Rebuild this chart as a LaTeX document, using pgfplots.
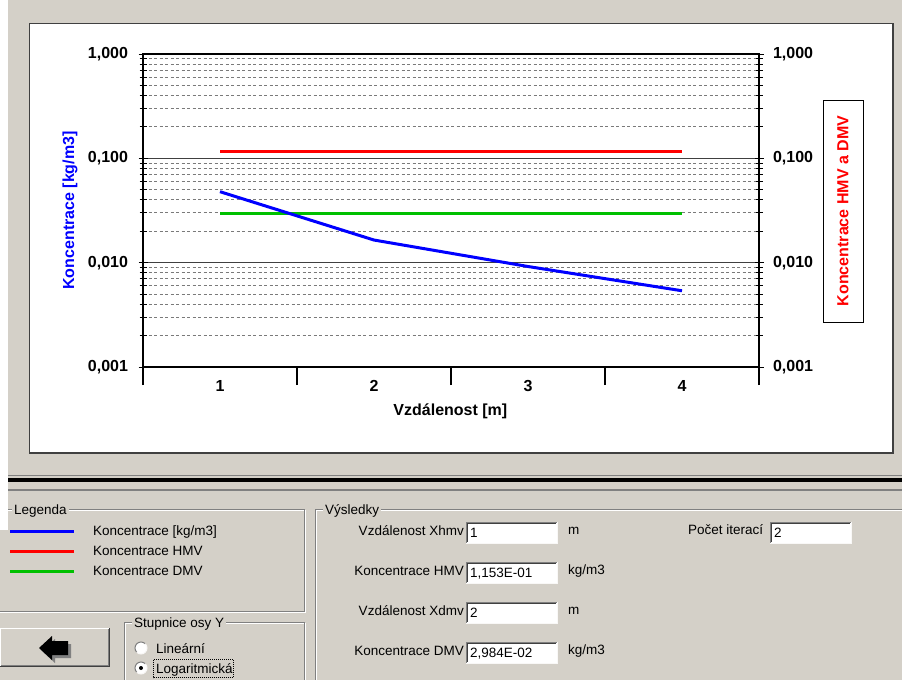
\documentclass[border=0pt]{standalone}
\usepackage{pgfplots}
\pgfplotsset{compat=1.18}
\usepackage{pgfplotstable}
\usepackage{fontspec}
\setmainfont{Liberation Sans}
\definecolor{bg}{HTML}{D4D0C8}
\definecolor{cblue}{RGB}{0,0,255}
\definecolor{cred}{RGB}{255,0,0}
\definecolor{cgreen}{RGB}{0,192,0}
\definecolor{gridA}{HTML}{404040}
\definecolor{gridB}{HTML}{7A7A7A}
\definecolor{dk}{HTML}{808080}
\definecolor{dkk}{HTML}{404040}
\newcommand{\cf}{\bfseries\fontsize{16bp}{19bp}\selectfont}
\newcommand{\uf}{\fontsize{13.5bp}{16bp}\selectfont}

\pgfplotstableread{
x y
1 0.0479
2 0.01648
3 0.00919
4 0.00538
}\conc
\pgfplotstableread{
x y
1 0.1153
4 0.1153
}\hmv
\pgfplotstableread{
x y
1 0.02984
4 0.02984
}\dmv

% #1..#4 box corners, #5 title x, #6 title
\newcommand{\groupbox}[6]{%
  \draw[white, line width=1bp] ({#1+1},{#2+1}) rectangle ({#3+1},{#4+1});
  \draw[dk, line width=1bp] (#1,#2) rectangle (#3,#4);
  \node[font=\uf, fill=bg, inner xsep=2bp, inner ysep=1bp, anchor=base west] at ({#5-2},{#2+5}) {#6};
}
\newcommand{\tbox}[5]{%
  \fill[white] (#1,#2) rectangle (#3,#4);
  \draw[dk, line width=1bp] (#1,#4) -- (#1,#2) -- (#3,#2);
  \draw[dkk, line width=1bp] ({#1+1},{#4-1}) -- ({#1+1},{#2+1}) -- ({#3-1},{#2+1});
  \draw[white!85!bg, line width=1bp] (#1,#4) -- (#3,#4) -- (#3,#2);
  \node[font=\uf, anchor=base west, inner sep=0pt] at ({#1+4},{#2+15.5}) {#5};
}

\begin{document}
\begin{tikzpicture}
\begin{scope}[x=1bp,y=-1bp]
  \fill[bg] (0,0) rectangle (902,680);
  \draw[fill=white, draw=dkk, line width=1.3bp] (29.5,23.5) rectangle (893,453);
\end{scope}

% main axis: grid, plots, left ticks
\begin{axis}[at={(143bp,-367bp)}, anchor=south west,
  scale only axis, width=616bp, height=313bp,
  xmin=0.5, xmax=4.5, ymode=log, ymin=0.001, ymax=1,
  axis line style={black, line width=1.2bp},
  ytick={0.001,0.01,0.1,1},
  yticklabels={{0,001},{0,010},{0,100},{1,000}},
  minor ytick={0.002,0.003,0.004,0.005,0.006,0.007,0.008,0.009,
               0.02,0.03,0.04,0.05,0.06,0.07,0.08,0.09,
               0.2,0.3,0.4,0.5,0.6,0.7,0.8,0.9},
  tick align=center, major tick length=9bp, minor tick length=7bp,
  major tick style={black, line width=1bp},
  minor tick style={black, line width=1bp},
  yticklabel style={font=\cf, xshift=-7bp},
  xtick=\empty, ytick pos=left,
  ymajorgrids, yminorgrids,
  major grid style={gridA, line width=1.1bp},
  minor grid style={gridB, line width=1bp, dash pattern=on 3bp off 2.5bp},
  ylabel={Koncentrace [kg/m3]}, xlabel={Vzdálenost [m]},
  ylabel style={at={(axis description cs:-0.1185,0.5)}, anchor=center, font=\cf, text=cblue},
  xlabel style={at={(axis description cs:0.499,-0.1406)}, anchor=center, font=\cf},
]
\addplot[cgreen, line width=3bp, line cap=butt] table[x=x,y=y] {\dmv};
\addplot[cred, line width=3bp, line cap=butt] table[x=x,y=y] {\hmv};
\addplot[cblue, line width=3bp, line cap=butt, line join=round] table[x=x,y=y] {\conc};
\end{axis}

% right ticks and label
\begin{axis}[at={(143bp,-367bp)}, anchor=south west,
  scale only axis, width=616bp, height=313bp,
  xmin=0.5, xmax=4.5, ymode=log, ymin=0.001, ymax=1,
  axis line style={black, line width=1.2bp},
  ytick={0.001,0.01,0.1,1},
  yticklabels={{0,001},{0,010},{0,100},{1,000}},
  minor ytick={0.002,0.003,0.004,0.005,0.006,0.007,0.008,0.009,
               0.02,0.03,0.04,0.05,0.06,0.07,0.08,0.09,
               0.2,0.3,0.4,0.5,0.6,0.7,0.8,0.9},
  tick align=center, major tick length=9bp, minor tick length=7bp,
  major tick style={black, line width=1bp},
  minor tick style={black, line width=1bp},
  yticklabel style={font=\cf, xshift=6bp},
  hide x axis,
  ytick pos=right, yticklabel pos=right,
  ylabel={Koncentrace HMV a DMV},
  ylabel style={at={(axis description cs:1.1364,0.4984)}, anchor=center,
     font=\cf, text=cred, draw=black, line width=1bp, fill=white,
     minimum width=222bp, minimum height=40bp, inner sep=0pt},
]
\addplot[draw=none] coordinates {(1,0.01)};
\end{axis}

% x ticks
\begin{axis}[at={(143bp,-367bp)}, anchor=south west,
  scale only axis, width=616bp, height=313bp,
  xmin=0.5, xmax=4.5, ymin=0, ymax=1,
  axis line style={black, line width=1.2bp},
  hide y axis,
  xtick={0.5,1.5,2.5,3.5,4.5}, xticklabels={1,2,3,4,{}},
  xtick pos=bottom, tick align=outside, major tick length=18bp,
  major tick style={black, line width=1.2bp},
  xticklabel style={font=\cf, xshift=77bp, yshift=8.5bp},
]
\addplot[draw=none] coordinates {(1,0.5)};
\end{axis}

\begin{scope}[x=1bp,y=-1bp]
  % separators
  \draw[dk, line width=1bp] (8,475.5) -- (902,475.5);
  \fill[black] (8,477.5) rectangle (902,481.5);
  \draw[dk, line width=2bp] (8,490) -- (902,490);
  % group boxes
  \groupbox{-5}{509}{304}{611}{14}{Legenda}
  \groupbox{124}{622}{304}{700}{134}{Stupnice osy Y}
  \groupbox{315}{509}{910}{700}{325}{Výsledky}
  \fill[white] (0,0) rectangle (8,530);
  % legend
  \draw[cblue, line width=3bp] (10,531) -- (74,531);
  \draw[cred, line width=3bp] (10,551) -- (74,551);
  \draw[cgreen, line width=3bp] (10,571) -- (74,571);
  \node[font=\uf, anchor=base west, inner sep=0pt] at (93,535) {Koncentrace [kg/m3]};
  \node[font=\uf, anchor=base west, inner sep=0pt] at (93,555) {Koncentrace HMV};
  \node[font=\uf, anchor=base west, inner sep=0pt] at (93,575) {Koncentrace DMV};
  % results
  \node[font=\uf, anchor=base east, inner sep=0pt] at (464,535) {Vzdálenost Xhmv};
  \node[font=\uf, anchor=base east, inner sep=0pt] at (464,575) {Koncentrace HMV};
  \node[font=\uf, anchor=base east, inner sep=0pt] at (464,615) {Vzdálenost Xdmv};
  \node[font=\uf, anchor=base east, inner sep=0pt] at (464,655) {Koncentrace DMV};
  \tbox{466}{522}{557}{543}{1}
  \tbox{466}{562}{557}{583}{1,153E-01}
  \tbox{466}{602}{557}{623}{2}
  \tbox{466}{642}{557}{663}{2,984E-02}
  \node[font=\uf, anchor=base west, inner sep=0pt] at (568,534) {m};
  \node[font=\uf, anchor=base west, inner sep=0pt] at (568,574) {kg/m3};
  \node[font=\uf, anchor=base west, inner sep=0pt] at (568,614) {m};
  \node[font=\uf, anchor=base west, inner sep=0pt] at (568,654) {kg/m3};
  \node[font=\uf, anchor=base west, inner sep=0pt] at (688,534) {Počet iterací};
  \tbox{770}{522}{851}{543}{2}
  % button
  \fill[bg] (-2,628) rectangle (110,667);
  \draw[white, line width=1bp] (0.5,666) -- (0.5,628.5) -- (109,628.5);
  \draw[dkk, line width=1bp] (0,666.5) -- (109.5,666.5) -- (109.5,628);
  \draw[dk, line width=1bp] (1,665.5) -- (108.5,665.5) -- (108.5,629);
  \fill[dk] (42,651) -- (55,639) -- (55,644) -- (71,644) -- (71,658) -- (55,658) -- (55,663) -- cycle;
  \fill[black] (39,648) -- (52,636) -- (52,641) -- (68,641) -- (68,655) -- (52,655) -- (52,660) -- cycle;
  % radios
  \foreach \yy in {648,668} {
    \fill[white] (141,\yy) circle (6);
    \draw[dk, line width=1bp] ([shift={(135:6)}]141,\yy) arc (135:315:6);
    \draw[white!85!bg, line width=1bp] ([shift={(-45:6)}]141,\yy) arc (-45:135:6);
  }
  \fill[black] (141,668) circle (2);
  \node[font=\uf, anchor=base west, inner sep=0pt] at (156,653) {Lineární};
  \node[font=\uf, anchor=base west, inner sep=0pt] at (156,673) {Logaritmická};
  \draw[black, line width=0.8bp, dash pattern=on 1bp off 1bp] (153.5,659.5) rectangle (233,677.5);
\end{scope}
\pgfresetboundingbox
\path[use as bounding box] (0,0) rectangle (902bp,-680bp);
\end{tikzpicture}
\end{document}
